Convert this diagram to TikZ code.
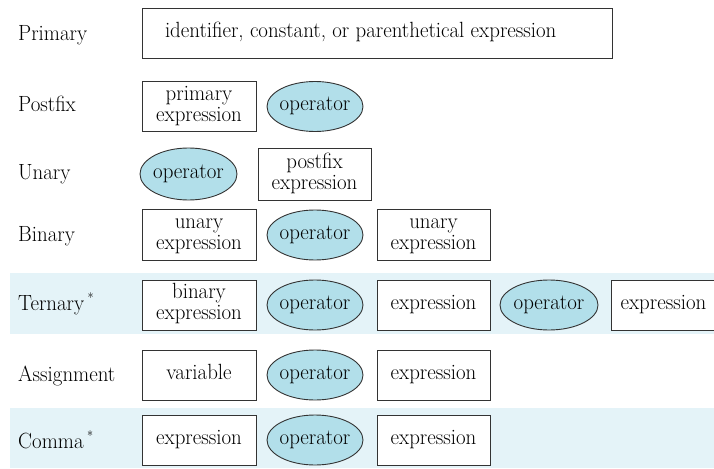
\documentclass[tikz,border=0pt]{standalone}
\usetikzlibrary{shapes.geometric}
\definecolor{band}{HTML}{E4F3F8}
\definecolor{opfill}{HTML}{B2DFEA}
\definecolor{edge}{HTML}{333333}
\newcommand\tx[1]{\scalebox{0.95}[1]{\begin{tabular}{@{}c@{}}#1\end{tabular}}}
\newcommand\optx{\makebox[50pt]{\tx{operator}}}
\begin{document}
\begin{tikzpicture}[x=1pt,y=-1pt,
  every node/.style={font=\fontsize{22}{21}\selectfont, text=black},
  lbl/.style={anchor=west, inner sep=0pt},
  box/.style={draw=edge, line width=0.9pt, fill=white, minimum height=50pt, inner sep=1pt, align=center},
  opr/.style={ellipse, draw=edge, line width=0.9pt, fill=opfill, minimum width=96pt, minimum height=50pt, inner sep=0pt},
  bandfill/.style={fill=band, draw=none}]
\useasboundingbox (0,0) rectangle (714,468);
\fill[bandfill] (10,273) rectangle (714,334);
\fill[bandfill] (10,408) rectangle (714,468);
% labels
\node[lbl] (lp) at (18,36) {\tx{Primary}};
\node[lbl] (lpf) at (18,107) {\tx{Postfix}};
\node[lbl] (lu) at (18,175) {\tx{Unary}};
\node[lbl] (lb) at (18,237) {\tx{Binary}};
\node[lbl] (lt) at (18,305) {\tx{Ternary\,\raisebox{0.9ex}{\fontsize{13}{13}\selectfont*}}};
\node[lbl] (la) at (18,377) {\tx{Assignment}};
\node[lbl] (lc) at (18,443) {\tx{Comma\,\raisebox{0.9ex}{\fontsize{13}{13}\selectfont*}}};
% primary
\node[box, minimum width=470pt] (p1) at (377,33) {\makebox[464pt][l]{\hspace*{20pt}\tx{identifier, constant, or parenthetical expression}}};
% postfix
\node[box, minimum width=114pt] (pf1) at (199,106.5) {\tx{primary\\expression}};
\node[opr] (pf2) at (315,106.5) {\optx};
% unary
\node[opr, minimum width=97pt, minimum height=52pt] (u1) at (188.5,174) {\optx};
\node[box, minimum width=113pt, minimum height=52pt] (u2) at (314.5,174) {\tx{postfix\\expression}};
% binary
\node[box, minimum width=114pt, minimum height=51pt] (b1) at (199,235) {\tx{unary\\expression}};
\node[opr] (b2) at (315,235) {\optx};
\node[box, minimum width=113pt, minimum height=51pt] (b3) at (433.5,235) {\tx{unary\\expression}};
% ternary
\node[box, minimum width=114pt] (t1) at (199,305) {\tx{binary\\expression}};
\node[opr] (t2) at (315,305) {\optx};
\node[box, minimum width=113pt] (t3) at (433.5,305) {\tx{expression}};
\node[opr, minimum width=98pt] (t4) at (549,305) {\optx};
\node[box, minimum width=110pt, anchor=west] (t5) at (611,305) {\tx{expression}\hspace*{6pt}};
% assignment
\node[box, minimum width=114pt] (a1) at (199,375) {\tx{variable}};
\node[opr] (a2) at (315,375) {\optx};
\node[box, minimum width=113pt] (a3) at (433.5,375) {\tx{expression}};
% comma
\node[box, minimum width=114pt] (c1) at (199,440) {\tx{expression}};
\node[opr] (c2) at (315,440) {\optx};
\node[box, minimum width=113pt] (c3) at (433.5,440) {\tx{expression}};
\end{tikzpicture}
\end{document}
